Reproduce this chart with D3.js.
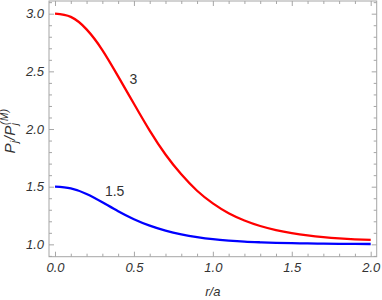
<!DOCTYPE html>
<html>
<head>
<meta charset="utf-8">
<script src="https://cdn.jsdelivr.net/npm/d3@7"></script>
<style>
  body { margin: 0; background: #fff; }
  svg { display: block; font-family: "Liberation Sans", Arial, sans-serif; }
  .tick text { font-size: 13px; font-style: italic; fill: #333; }
  .axis path { display: none; }
  .axis line { stroke: #a6a6a6; }
</style>
</head>
<body>
<div id="chart"></div>
<script>
const W = 382, H = 300;

// r/a samples and the two curves
const rVals = [0, 0.1, 0.2, 0.3, 0.4, 0.5, 0.6, 0.7, 0.8, 0.9, 1.0,
  1.1, 1.2, 1.3, 1.4, 1.5, 1.6, 1.7, 1.8, 1.9, 2.0];
const redVals = [3.0, 2.972, 2.864, 2.685, 2.457, 2.219, 1.986, 1.779, 1.607, 1.465, 1.355,
  1.270, 1.207, 1.159, 1.124, 1.098, 1.078, 1.063, 1.052, 1.044, 1.038];
const blueVals = [1.5, 1.485, 1.437, 1.365, 1.287, 1.218, 1.162, 1.119, 1.087, 1.063, 1.045,
  1.033, 1.024, 1.018, 1.013, 1.010, 1.008, 1.006, 1.005, 1.004, 1.003];

const xTicks = [0, 0.5, 1.0, 1.5, 2.0];
const xTickLabels = ["0.0", "0.5", "1.0", "1.5", "2.0"];
const yTicks = [1.0, 1.5, 2.0, 2.5, 3.0];
const yTickLabels = ["1.0", "1.5", "2.0", "2.5", "3.0"];

const curveNames = ["3", "1.5"];
const curveLabelAt = [[0.497, 2.43], [0.378, 1.46]];

const x = d3.scaleLinear().domain([-0.038, 2.038]).range([49, 376.7]);
const y = d3.scaleLinear().domain([0.893, 3.11]).range([256.7, 1]);

const svg = d3.select("#chart").append("svg").attr("width", W).attr("height", H);

const minorX = d3.range(0, 2.001, 0.1).filter((d) => Math.abs(d * 2 - Math.round(d * 2)) > 1e-6);
const minorY = d3.range(0.9, 3.15, 0.1).filter((d) => Math.abs(d * 2 - Math.round(d * 2)) > 1e-6);

const fmt = (labels, ticks) => (d) => labels[ticks.indexOf(d)];

// frame ticks (inward on all four sides)
const [x0, x1] = x.range();
const [y0, y1] = y.range();

svg.append("g").attr("class", "axis").attr("transform", `translate(0,${y0})`)
  .call(d3.axisBottom(x).tickValues(xTicks).tickSize(-5).tickPadding(6).tickFormat(fmt(xTickLabels, xTicks)));
svg.append("g").attr("class", "axis").attr("transform", `translate(0,${y0})`)
  .call(d3.axisBottom(x).tickValues(minorX).tickSize(-3).tickFormat(""));
svg.append("g").attr("class", "axis").attr("transform", `translate(0,${y1})`)
  .call(d3.axisTop(x).tickValues(xTicks).tickSize(-5).tickFormat(""));
svg.append("g").attr("class", "axis").attr("transform", `translate(0,${y1})`)
  .call(d3.axisTop(x).tickValues(minorX).tickSize(-3).tickFormat(""));

svg.append("g").attr("class", "axis").attr("transform", `translate(${x0},0)`)
  .call(d3.axisLeft(y).tickValues(yTicks).tickSize(-5).tickPadding(5).tickFormat(fmt(yTickLabels, yTicks)));
svg.append("g").attr("class", "axis").attr("transform", `translate(${x0},0)`)
  .call(d3.axisLeft(y).tickValues(minorY).tickSize(-3).tickFormat(""));
svg.append("g").attr("class", "axis").attr("transform", `translate(${x1},0)`)
  .call(d3.axisRight(y).tickValues(yTicks).tickSize(-5).tickFormat(""));
svg.append("g").attr("class", "axis").attr("transform", `translate(${x1},0)`)
  .call(d3.axisRight(y).tickValues(minorY).tickSize(-3).tickFormat(""));

svg.append("rect")
  .attr("x", x0).attr("y", y1)
  .attr("width", x1 - x0).attr("height", y0 - y1)
  .attr("fill", "none").attr("stroke", "#a6a6a6");

// curves
const line = d3.line()
  .x((d) => x(d[0]))
  .y((d) => y(d[1]))
  .curve(d3.curveNatural);

[[redVals, "#ff0000"], [blueVals, "#0000ff"]].forEach(([vals, col]) => {
  svg.append("path")
    .datum(rVals.map((r, i) => [r, vals[i]]))
    .attr("fill", "none")
    .attr("stroke", col)
    .attr("stroke-width", 2.3)
    .attr("d", line);
});

svg.selectAll(".clabel")
  .data(curveNames)
  .join("text")
  .attr("class", "clabel")
  .attr("x", (d, i) => x(curveLabelAt[i][0]))
  .attr("y", (d, i) => y(curveLabelAt[i][1]))
  .attr("dy", "0.35em")
  .attr("text-anchor", "middle")
  .style("font-size", "14px")
  .style("fill", "#333")
  .text((d) => d);

// axis labels
svg.append("text")
  .attr("x", (x0 + x1) / 2)
  .attr("y", 296)
  .attr("text-anchor", "middle")
  .style("font-size", "13px")
  .style("font-style", "italic")
  .style("fill", "#333")
  .text("r/a");

const yl = svg.append("text")
  .attr("transform", "translate(15,131) rotate(-90)")
  .attr("text-anchor", "middle")
  .style("font-size", "15px")
  .style("letter-spacing", "0.5px")
  .style("font-style", "italic")
  .style("fill", "#333");
yl.append("tspan").text("P");
yl.append("tspan").attr("dy", 3).style("font-size", "10px").text("j");
yl.append("tspan").attr("dy", -3).text("/P");
yl.append("tspan").attr("dy", 3).style("font-size", "10px").text("j");
yl.append("tspan").attr("dy", -10).attr("dx", -2.5).style("font-size", "10px").text("(M)");
</script>
</body>
</html>
